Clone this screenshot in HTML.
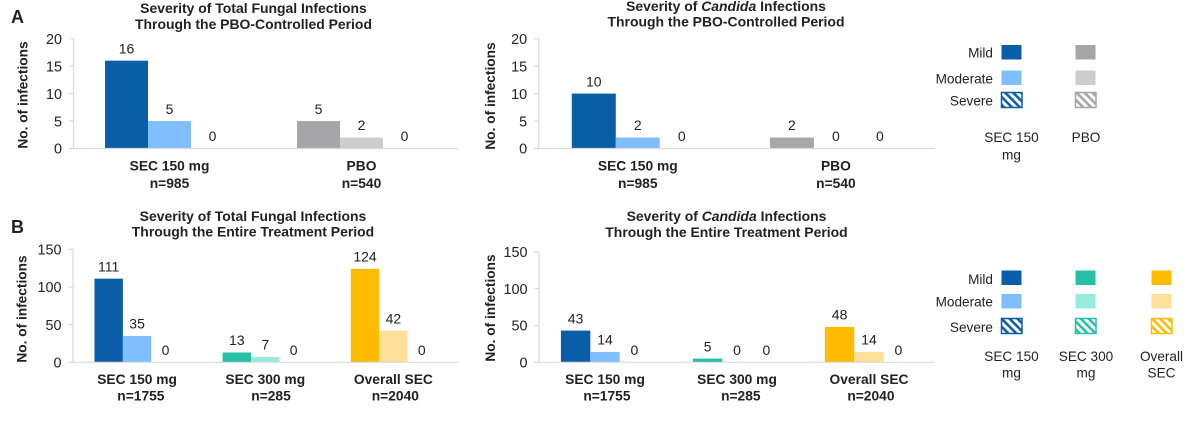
<!DOCTYPE html>
<html lang="en">
<head>
<meta charset="utf-8">
<title>Severity of Fungal Infections</title>
<style>
html,body{margin:0;padding:0;background:#fff;}
svg{display:block;font-family:"Liberation Sans",Arial,sans-serif;fill:#222;filter:blur(0.3px);}
.title{font-weight:700;font-size:13.95px;text-anchor:middle;}
.panel{font-weight:700;font-size:18px;}
.tick{font-size:14.4px;text-anchor:end;}
.val{font-size:14px;text-anchor:middle;}
.cat{font-weight:700;font-size:13.8px;text-anchor:middle;}
.ytitle{font-weight:700;font-size:13.7px;text-anchor:middle;}
.leg{font-size:13.6px;text-anchor:end;}
.legc{font-size:13.6px;text-anchor:middle;}
</style>
</head>
<body>
<svg id="figure" xmlns="http://www.w3.org/2000/svg" width="1200" height="422" viewBox="0 0 1200 422">
  <defs id="defs"></defs>
  <text class="panel" x="11" y="23">A</text>
  <text class="panel" x="11" y="233">B</text>

  <text class="title" x="253.5" y="13">Severity of Total Fungal Infections</text>
  <text class="title" x="253.5" y="29">Through the PBO-Controlled Period</text>
  <text class="title" x="726" y="11">Severity of <tspan font-style="italic">Candida</tspan> Infections</text>
  <text class="title" x="726" y="26.5">Through the PBO-Controlled Period</text>
  <text class="title" x="253" y="221">Severity of Total Fungal Infections</text>
  <text class="title" x="253" y="236.5">Through the Entire Treatment Period</text>
  <text class="title" x="726.5" y="221">Severity of <tspan font-style="italic">Candida</tspan> Infections</text>
  <text class="title" x="726.5" y="237">Through the Entire Treatment Period</text>

  <text class="ytitle" transform="translate(27.5,95) rotate(-90)">No. of infections</text>
  <text class="ytitle" transform="translate(495,96) rotate(-90)">No. of infections</text>
  <text class="ytitle" transform="translate(26.5,309) rotate(-90)">No. of infections</text>
  <text class="ytitle" transform="translate(495,308) rotate(-90)">No. of infections</text>

  <g id="charts"></g>

  <g>
    <text class="leg" x="993" y="57.5">Mild</text>
    <text class="leg" x="993" y="83.5">Moderate</text>
    <text class="leg" x="993" y="105.5">Severe</text>
    <rect x="1001.5" y="45" width="20" height="14.5" fill="#0a5ea8"/>
    <rect x="1001.5" y="70.5" width="20" height="14.5" fill="#7fbfff"/>
    <rect x="1001.5" y="92.5" width="20.5" height="15" fill="url(#hatch-blue)" stroke="#0a5ea8" stroke-width="1.5"/>
    <rect x="1075.5" y="45" width="20" height="14.5" fill="#a6a6a8"/>
    <rect x="1075.5" y="70.5" width="20" height="14.5" fill="#cdcdcd"/>
    <rect x="1075.5" y="92.5" width="20.5" height="15" fill="url(#hatch-gray)" stroke="#a6a6a8" stroke-width="1.5"/>
    <text class="legc" x="1011.5" y="142">SEC 150</text>
    <text class="legc" x="1011.5" y="159.5">mg</text>
    <text class="legc" x="1086" y="142">PBO</text>
  </g>

  <g>
    <text class="leg" x="993" y="284">Mild</text>
    <text class="leg" x="993" y="306.5">Moderate</text>
    <text class="leg" x="993" y="332">Severe</text>
    <rect x="1001.5" y="270.5" width="20" height="14.5" fill="#0a5ea8"/>
    <rect x="1001.5" y="294" width="20" height="14.5" fill="#7fbfff"/>
    <rect x="1001.5" y="318.5" width="20.5" height="15" fill="url(#hatch-blue)" stroke="#0a5ea8" stroke-width="1.5"/>
    <rect x="1075.5" y="270.5" width="20" height="14.5" fill="#25c0a5"/>
    <rect x="1075.5" y="294" width="20" height="14.5" fill="#99ebdc"/>
    <rect x="1075.5" y="318.5" width="20.5" height="15" fill="url(#hatch-teal)" stroke="#25c0a5" stroke-width="1.5"/>
    <rect x="1151.5" y="270.5" width="20" height="14.5" fill="#ffbb00"/>
    <rect x="1151.5" y="294" width="20" height="14.5" fill="#ffdf99"/>
    <rect x="1151.5" y="318.5" width="20.5" height="15" fill="url(#hatch-gold)" stroke="#ffbb00" stroke-width="1.5"/>
    <text class="legc" x="1011.5" y="361">SEC 150</text>
    <text class="legc" x="1011.5" y="377.5">mg</text>
    <text class="legc" x="1086" y="361">SEC 300</text>
    <text class="legc" x="1086" y="377.5">mg</text>
    <text class="legc" x="1161.5" y="361">Overall</text>
    <text class="legc" x="1161.5" y="377.5">SEC</text>
  </g>
</svg>
<script>
// ---- Chart data ----
const ticksA = [0, 5, 10, 15, 20];
const ticksB = [0, 50, 100, 150];

const a1Groups = ["SEC 150 mg", "PBO"];
const a1Counts = ["n=985", "n=540"];
const a1Mild = [16, 5];
const a1Moderate = [5, 2];
const a1Severe = [0, 0];

const a2Groups = ["SEC 150 mg", "PBO"];
const a2Counts = ["n=985", "n=540"];
const a2Mild = [10, 2];
const a2Moderate = [2, 0];
const a2Severe = [0, 0];

const b1Groups = ["SEC 150 mg", "SEC 300 mg", "Overall SEC"];
const b1Counts = ["\u00a0\u00a0n=1755", "\u00a0\u00a0\u00a0n=285", "\u00a0n=2040"];
const b1Mild = [111, 13, 124];
const b1Moderate = [35, 7, 42];
const b1Severe = [0, 0, 0];

const b2Groups = ["SEC 150 mg", "SEC 300 mg", "Overall SEC"];
const b2Counts = ["\u00a0n=1755", "\u00a0\u00a0n=285", "\u00a0n=2040"];
const b2Mild = [43, 5, 48];
const b2Moderate = [14, 0, 14];
const b2Severe = [0, 0, 0];

const severityNames = ["mild", "moderate", "severe"];

// ---- Rendering ----
const NS = "http://www.w3.org/2000/svg";
const blue = ["#0a5ea8", "#7fbfff", "blue"];
const gray = ["#a6a6a8", "#cdcdcd", "gray"];
const teal = ["#25c0a5", "#99ebdc", "teal"];
const gold = ["#ffbb00", "#ffdf99", "gold"];
const hatchColors = { blue: "#0a5ea8", gray: "#a6a6a8", teal: "#25c0a5", gold: "#ffbb00" };

function make(tag, attrs, parent, text) {
  const el = document.createElementNS(NS, tag);
  for (const k in attrs) el.setAttribute(k, attrs[k]);
  if (text !== undefined) el.textContent = text;
  parent.appendChild(el);
  return el;
}

const defs = document.getElementById("defs");
Object.keys(hatchColors).forEach(function (key) {
  const p = make("pattern", { id: "hatch-" + key, width: 5.6, height: 5.6, patternUnits: "userSpaceOnUse", patternTransform: "rotate(-45)" }, defs);
  make("rect", { width: 5.6, height: 5.6, fill: "#fff" }, p);
  make("rect", { width: 2.6, height: 5.6, fill: hatchColors[key] }, p);
});

function drawChart(cfg) {
  const root = document.getElementById("charts");
  const g = make("g", {}, root);
  
  

  const yMax = cfg.ticks[cfg.ticks.length - 1];
  const yScale = function (v) { return cfg.y0 - (v / yMax) * (cfg.y0 - cfg.y1); };
  const band = (cfg.x1 - cfg.x0) / cfg.groups.length;
  const groupCenter = function (i) { return cfg.x0 + band * (i + 0.5); };
  const barX = function (i, s) { return groupCenter(i) - 1.5 * cfg.barW + s * cfg.barW; };

  const axisColor = "#d9d9d9";
  const yAxis = make("line", { x1: cfg.x0, x2: cfg.x0, y1: cfg.y0, y2: cfg.y1, stroke: axisColor, "stroke-width": 1.2 }, g);
  
  

  cfg.ticks.forEach(function (t) {
    const mark = make("line", { x1: cfg.x0 - 4.5, x2: cfg.x0, y1: yScale(t), y2: yScale(t), stroke: axisColor, "stroke-width": 1.2 }, g);
    
    
    const label = make("text", { class: "tick", x: cfg.x0 - 11.5, y: yScale(t) + 5.2 }, g, String(t));
    
    
  });

  cfg.groups.forEach(function (name, i) {
    cfg.series.forEach(function (values, s) {
      const v = values[i];
      const fillKey = cfg.colors[i][s];
      const isHatch = s === 2;
      const bar = make("rect", {
        x: barX(i, s),
        y: yScale(v),
        width: cfg.barW,
        height: cfg.y0 - yScale(v),
        fill: isHatch ? "url(#hatch-" + fillKey + ")" : fillKey
      }, g);
      
      
      const valueLabel = make("text", { class: "val", x: barX(i, s) + cfg.barW / 2, y: yScale(v) - 7.3 }, g, String(v));
      
      
    });
    const cat = make("text", { class: "cat", x: groupCenter(i), y: cfg.y0 + 21.8 }, g, name);
    
    
    const count = make("text", { class: "cat", x: groupCenter(i), y: cfg.y0 + cfg.countDy }, g, cfg.counts[i]);
    
    
  });

  const base = make("line", { x1: cfg.x0 - 4.5, x2: cfg.x1, y1: cfg.y0, y2: cfg.y0, stroke: axisColor, "stroke-width": 1.2 }, g);
  
  
}

drawChart({ id: "a1", groups: a1Groups, counts: a1Counts, series: [a1Mild, a1Moderate, a1Severe], ticks: ticksA,
  colors: [blue, gray], x0: 73.5, x1: 457.5, y0: 148.5, y1: 38.7, barW: 43, countDy: 39.5 });
drawChart({ id: "a2", groups: a2Groups, counts: a2Counts, series: [a2Mild, a2Moderate, a2Severe], ticks: ticksA,
  colors: [blue, gray], x0: 538.7, x1: 935, y0: 148.5, y1: 38.7, barW: 44, countDy: 39.5 });
drawChart({ id: "b1", groups: b1Groups, counts: b1Counts, series: [b1Mild, b1Moderate, b1Severe], ticks: ticksB,
  colors: [blue, teal, gold], x0: 73, x1: 457.5, y0: 362.3, y1: 249.3, barW: 28.4, countDy: 38 });
drawChart({ id: "b2", groups: b2Groups, counts: b2Counts, series: [b2Mild, b2Moderate, b2Severe], ticks: ticksB,
  colors: [blue, teal, gold], x0: 539, x1: 935, y0: 362.3, y1: 251.7, barW: 29.4, countDy: 38 });
</script>
</body>
</html>
